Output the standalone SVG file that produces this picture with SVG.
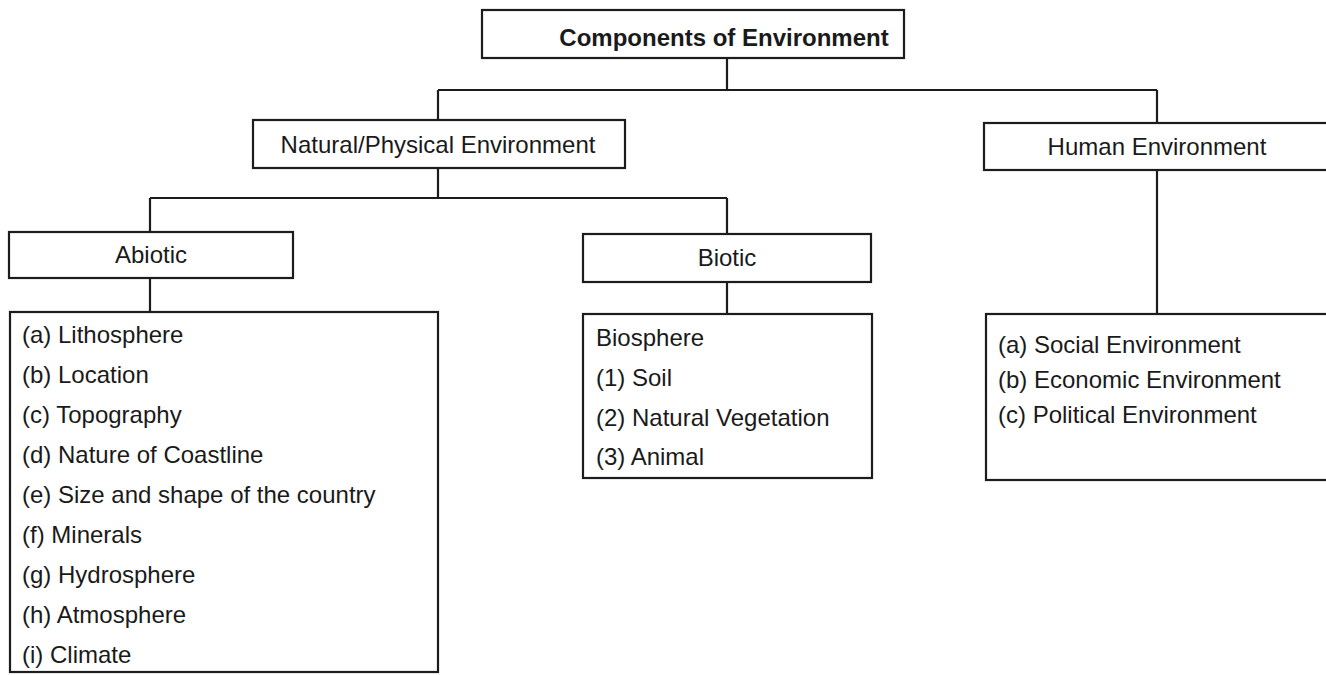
<svg xmlns="http://www.w3.org/2000/svg" width="1326" height="675" viewBox="0 0 1326 675">
<style>
.box{fill:#fff;stroke:#1c1c1c;stroke-width:2.2}
.ln{stroke:#1c1c1c;stroke-width:2.2;fill:none}
text{font-family:"Liberation Sans",Arial,sans-serif;font-size:24px;fill:#1a1a1a}
.t{font-weight:bold}
.c{text-anchor:middle}
</style>
<rect width="1326" height="675" fill="#fff"/>
<g id="connectors">
<path class="ln" d="M727 58V90M438 90H1157M438 90V120M1157 90V123M438 168V198M150 198H727M150 198V232M727 198V234M150 278V312M727 282V314M1157 170V314"/>
</g>
<g id="components">
<rect class="box" x="482" y="10" width="422" height="48"/>
<text class="t c" x="724" y="46">Components of Environment</text>
</g>
<g id="natural">
<rect class="box" x="253" y="120" width="372" height="48"/>
<text class="c" x="438" y="153">Natural/Physical Environment</text>
</g>
<g id="human">
<rect class="box" x="984" y="123" width="346" height="47"/>
<text class="c" x="1157" y="155">Human Environment</text>
</g>
<g id="abiotic">
<rect class="box" x="9" y="232" width="284" height="46"/>
<text class="c" x="151" y="263">Abiotic</text>
</g>
<g id="biotic">
<rect class="box" x="583" y="234" width="288" height="48"/>
<text class="c" x="727" y="266">Biotic</text>
</g>
<g id="abiotic-list">
<rect class="box" x="10" y="312" width="428" height="360"/>
<text x="22" y="343">(a) Lithosphere</text>
<text x="22" y="383">(b) Location</text>
<text x="22" y="423">(c) Topography</text>
<text x="22" y="463">(d) Nature of Coastline</text>
<text x="22" y="503">(e) Size and shape of the country</text>
<text x="22" y="543">(f) Minerals</text>
<text x="22" y="583">(g) Hydrosphere</text>
<text x="22" y="623">(h) Atmosphere</text>
<text x="22" y="663">(i) Climate</text>
</g>
<g id="biotic-list">
<rect class="box" x="583" y="314" width="289" height="164"/>
<text x="596" y="346">Biosphere</text>
<text x="596" y="386">(1) Soil</text>
<text x="596" y="426">(2) Natural Vegetation</text>
<text x="596" y="465">(3) Animal</text>
</g>
<g id="human-list">
<rect class="box" x="986" y="314" width="344" height="166"/>
<text x="998" y="353">(a) Social Environment</text>
<text x="998" y="388">(b) Economic Environment</text>
<text x="998" y="423">(c) Political Environment</text>
</g>
</svg>
